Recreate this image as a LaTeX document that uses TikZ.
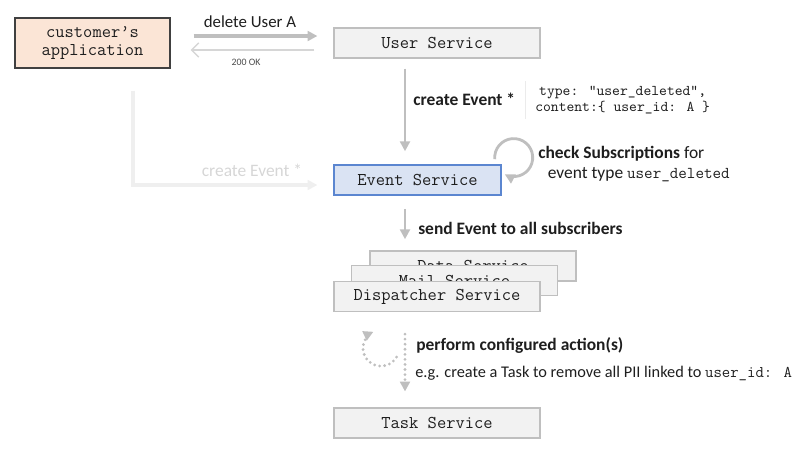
\documentclass[tikz,border=0pt]{standalone}
\usepackage{fontspec}
\setmainfont{Carlito}
\usetikzlibrary{arrows.meta}
\definecolor{boxgray}{HTML}{F2F2F2}
\definecolor{linegray}{HTML}{BFBFBF}
\definecolor{palegray}{HTML}{EFEFEF}
\definecolor{fadetext}{HTML}{D6D6D6}
\definecolor{peach}{HTML}{FBE5D6}
\definecolor{evblue}{HTML}{DAE3F3}
\definecolor{evedge}{HTML}{5B86D0}
\definecolor{ink}{HTML}{1E1E1E}
\tikzset{
  svc/.style={draw=linegray, fill=boxgray, line width=0.8pt, minimum width=5.15cm,
    minimum height=0.75cm, inner sep=0pt, text=ink,
    font=\ttfamily\fontsize{12.8}{14}\selectfont},
  flow/.style={draw=linegray, line width=2pt, -{Triangle[length=7pt,width=7pt]}},
  dotflow/.style={draw=linegray, line width=2.2pt, line cap=round,
    dash pattern=on 0pt off 3.6pt, -{Triangle[length=7pt,width=7pt]}},
  lbl/.style={anchor=west, inner sep=0pt, text=ink, font=\fontsize{12.4}{14.5}\selectfont}
}
\begin{document}
\begin{tikzpicture}[x=0.025cm, y=-0.025cm]
  \useasboundingbox (0,0) rectangle (801,450);
  \node (app) [draw=black!75, fill=peach, line width=1pt, minimum width=3.875cm,
    minimum height=1.25cm, inner sep=0pt, align=center, text=ink,
    font=\ttfamily\fontsize{12.8}{13.5}\selectfont] at (92.5,43) {customer’s\\application};
  \node (user) [svc] at (437,43) {User Service};
  \node (event) [svc, draw=evedge, fill=evblue, minimum width=4.175cm] at (417.5,180) {Event Service};
  \node (data) [svc] at (473,266) {Data Service};
  \node (mail) [svc] at (454.5,280.5) {Mail Service};
  \node (disp) [svc] at (437,296.5) {Dispatcher Service};
  \node (task) [svc] at (437,423) {Task Service};

  \draw [flow, line width=2.8pt, shorten <=0.575cm, shorten >=0.4cm]
    (app.east |- 0,36) -- (user.west |- 0,36);
  \draw [draw=fadetext, line width=1pt, -{Straight Barb[length=5pt,width=10pt]},
    shorten <=0.475cm, shorten >=0.5cm] (user.west |- 0,50) -- (app.east |- 0,50);
  \node (del) [lbl, anchor=center, font=\fontsize{12}{14}\selectfont] at (250,22) {delete User A};
  \node (ok) [inner sep=0pt, text=ink!80, font=\fontsize{7}{8}\selectfont] at (246,62) {200 OK};

  \draw [flow, draw=palegray, line width=2.8pt, shorten <=0.55cm, shorten >=0.4cm]
    (app.south -| 133,0) |- ([yshift=-0.125cm]event.west);
  \node (ghost) [lbl, anchor=center, text=fadetext] at (252,170) {create Event *};

  \draw [flow, shorten <=0.25cm, shorten >=0.33cm] (user.south -| 405,0) -- (event.north -| 405,0);
  \node (create) [lbl, font=\fontsize{12.4}{14.5}\selectfont\bfseries] at (413,99) {create Event *};
  \node (code) [anchor=west, inner xsep=0.25cm, inner ysep=0.12cm, align=center, text=ink,
    font=\ttfamily\fontsize{10.6}{11.4}\selectfont] at (525,100)
    {type: “user\_deleted”,\\content:\{ user\_id: A \}};
  \draw [draw=black!8, line width=0.6pt] (code.north west) -- (code.south west);

  \draw [flow] ([xshift=-0.17cm,yshift=0.13cm]event.north east)
    arc [start angle=175, end angle=478, radius=19];
  \node (check) [lbl, align=left] at (538,164)
    {\textbf{check Subscriptions} for\\
     \hspace{0.55em}event type {\ttfamily\fontsize{11.8}{14.5}\selectfont user\_deleted}};

  \draw [flow, shorten <=0.33cm, shorten >=0.28cm] (event.south -| 405,0) -- (data.north -| 405,0);
  \node (send) [lbl, font=\fontsize{12.4}{14.5}\selectfont\bfseries] at (418,228) {send Event to all subscribers};

  \draw [dotflow, shorten <=0.55cm, shorten >=0.4cm] (disp.south -| 405,0) -- (task.north -| 405,0);
  \draw [dotflow] ([xshift=-1.01cm,yshift=-1.125cm]disp.south)
    arc [start angle=30, end angle=245, radius=18];
  \node (perform) [lbl, font=\fontsize{12.4}{14.5}\selectfont\bfseries] at (416,345) {perform configured action(s)};
  \node (eg) [lbl, font=\fontsize{11.6}{13}\selectfont] at (415,373)
    {e.g. create a Task to remove all PII linked to {\ttfamily\fontsize{11.6}{13}\selectfont user\_id: A}};
\end{tikzpicture}
\end{document}
